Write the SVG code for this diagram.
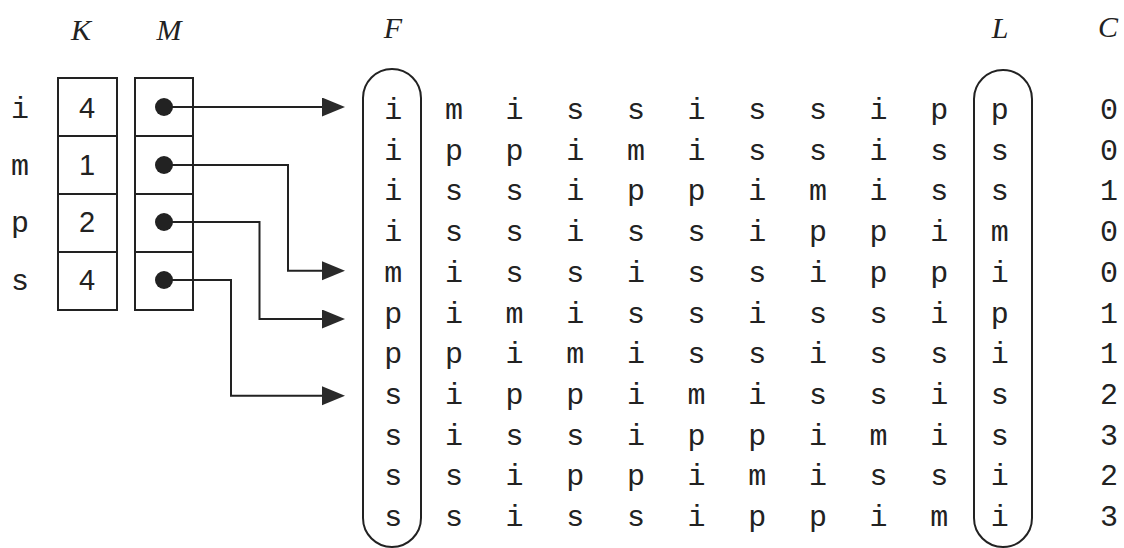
<svg xmlns="http://www.w3.org/2000/svg" width="1124" height="548" viewBox="0 0 1124 548">
<style>
.ln{fill:none;stroke:#222;stroke-width:2}
.hd{font-family:"Liberation Serif",serif;font-style:italic;font-size:30px;fill:#222;text-anchor:middle}
.mono{font-family:"Liberation Mono",monospace;font-size:30px;fill:#222;text-anchor:middle}
.num{font-family:"Liberation Sans",sans-serif;font-size:29px;fill:#222;text-anchor:middle}
.dot{fill:#222}
</style>
<defs>
<marker id="ah" markerUnits="userSpaceOnUse" markerWidth="24" markerHeight="20" refX="0" refY="9.5" orient="auto">
<path d="M0,0 L23,9.5 L0,19 Z" fill="#2a2a2a"/>
</marker>
</defs>
<rect width="1124" height="548" fill="#fff"/>
<g id="headers">
<text class="hd" x="81" y="40">K</text>
<text class="hd" x="169" y="40">M</text>
<text class="hd" x="393" y="38">F</text>
<text class="hd" x="1000" y="38">L</text>
<text class="hd" x="1108" y="37">C</text>
</g>
<g id="keys">
<text class="mono" x="20" y="118">i</text>
<text class="mono" x="20" y="175">m</text>
<text class="mono" x="20" y="232">p</text>
<text class="mono" x="20" y="290">s</text>
</g>
<g id="K">
<rect class="ln" x="58" y="78" width="59" height="232"/>
<path class="ln" d="M58,136H117M58,194H117M58,252H117"/>
<text class="num" x="87" y="118">4</text>
<text class="num" x="87" y="175">1</text>
<text class="num" x="87" y="232">2</text>
<text class="num" x="87" y="290">4</text>
</g>
<g id="M">
<rect class="ln" x="135" y="78" width="58" height="232"/>
<path class="ln" d="M135,136H193M135,194H193M135,252H193"/>
<circle class="dot" cx="164" cy="107" r="9"/>
<circle class="dot" cx="164" cy="165" r="9"/>
<circle class="dot" cx="164" cy="222" r="9"/>
<circle class="dot" cx="164" cy="280" r="9"/>
</g>
<g id="connectors">
<path class="ln" d="M164,107H322" marker-end="url(#ah)"/>
<path class="ln" d="M164,165H288V270.7H322" marker-end="url(#ah)"/>
<path class="ln" d="M164,222H259.5V319H322" marker-end="url(#ah)"/>
<path class="ln" d="M164,280H231V395.7H322" marker-end="url(#ah)"/>
</g>
<g id="F">
<rect class="ln" x="363" y="69" width="58" height="478" rx="29" ry="29"/>
<text class="mono" x="393.3" y="119">i</text>
<text class="mono" x="393.3" y="159.7">i</text>
<text class="mono" x="393.3" y="200.4">i</text>
<text class="mono" x="393.3" y="241.1">i</text>
<text class="mono" x="393.3" y="281.8">m</text>
<text class="mono" x="393.3" y="322.5">p</text>
<text class="mono" x="393.3" y="363.2">p</text>
<text class="mono" x="393.3" y="403.9">s</text>
<text class="mono" x="393.3" y="444.6">s</text>
<text class="mono" x="393.3" y="485.3">s</text>
<text class="mono" x="393.3" y="526">s</text>
</g>
<g id="matrix">
<text class="mono" x="454 514.6 575.3 636 696.6 757.2 817.9 878.5 939.2" y="119">mississip</text>
<text class="mono" x="454 514.6 575.3 636 696.6 757.2 817.9 878.5 939.2" y="159.7">ppimissis</text>
<text class="mono" x="454 514.6 575.3 636 696.6 757.2 817.9 878.5 939.2" y="200.4">ssippimis</text>
<text class="mono" x="454 514.6 575.3 636 696.6 757.2 817.9 878.5 939.2" y="241.1">ssissippi</text>
<text class="mono" x="454 514.6 575.3 636 696.6 757.2 817.9 878.5 939.2" y="281.8">ississipp</text>
<text class="mono" x="454 514.6 575.3 636 696.6 757.2 817.9 878.5 939.2" y="322.5">imississi</text>
<text class="mono" x="454 514.6 575.3 636 696.6 757.2 817.9 878.5 939.2" y="363.2">pimississ</text>
<text class="mono" x="454 514.6 575.3 636 696.6 757.2 817.9 878.5 939.2" y="403.9">ippimissi</text>
<text class="mono" x="454 514.6 575.3 636 696.6 757.2 817.9 878.5 939.2" y="444.6">issippimi</text>
<text class="mono" x="454 514.6 575.3 636 696.6 757.2 817.9 878.5 939.2" y="485.3">sippimiss</text>
<text class="mono" x="454 514.6 575.3 636 696.6 757.2 817.9 878.5 939.2" y="526">sissippim</text>
</g>
<g id="L">
<rect class="ln" x="974" y="70" width="58" height="477" rx="29" ry="29"/>
<text class="mono" x="999.8" y="119">p</text>
<text class="mono" x="999.8" y="159.7">s</text>
<text class="mono" x="999.8" y="200.4">s</text>
<text class="mono" x="999.8" y="241.1">m</text>
<text class="mono" x="999.8" y="281.8">i</text>
<text class="mono" x="999.8" y="322.5">p</text>
<text class="mono" x="999.8" y="363.2">i</text>
<text class="mono" x="999.8" y="403.9">s</text>
<text class="mono" x="999.8" y="444.6">s</text>
<text class="mono" x="999.8" y="485.3">i</text>
<text class="mono" x="999.8" y="526">i</text>
</g>
<g id="C">
<text class="mono" x="1109" y="119">0</text>
<text class="mono" x="1109" y="159.7">0</text>
<text class="mono" x="1109" y="200.4">1</text>
<text class="mono" x="1109" y="241.1">0</text>
<text class="mono" x="1109" y="281.8">0</text>
<text class="mono" x="1109" y="322.5">1</text>
<text class="mono" x="1109" y="363.2">1</text>
<text class="mono" x="1109" y="403.9">2</text>
<text class="mono" x="1109" y="444.6">3</text>
<text class="mono" x="1109" y="485.3">2</text>
<text class="mono" x="1109" y="526">3</text>
</g>
</svg>
